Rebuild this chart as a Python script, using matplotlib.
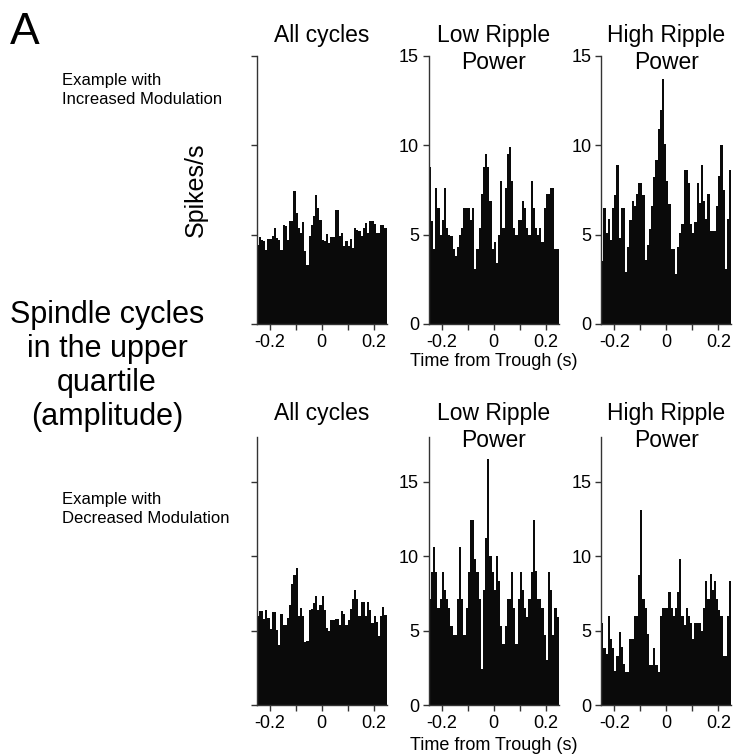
import numpy as np
import matplotlib.pyplot as plt

plt.rcParams['font.family'] = ['Liberation Sans', 'DejaVu Sans']

# 60 bins from -0.25 s to 0.25 s
bin_edges = np.linspace(-0.25, 0.25, 61)

# firing rates (spikes/s), increased modulation example
inc_all = [4.44, 4.87, 4.72, 4.63, 4.12, 4.76, 4.76, 4.94, 5.36, 4.81,
           4.72, 4.16, 5.56, 5.47, 4.72, 5.75, 5.75, 7.43, 6.22, 5.37,
           5.09, 5.69, 4.06, 3.31, 4.91, 5.56, 6.03, 7.21, 6.50, 5.84,
           4.72, 4.63, 5.06, 4.53, 4.87, 4.87, 6.37, 6.40, 4.91, 5.09,
           4.34, 4.63, 4.34, 4.76, 4.25, 5.37, 5.28, 5.19, 4.91, 5.37,
           5.66, 5.09, 5.75, 5.75, 5.60, 5.09, 5.09, 5.56, 5.56, 5.40]
inc_low = [8.8, 5.75, 4.2, 7.6, 6.5, 5.0, 5.8, 7.6, 5.4, 5.0,
           4.9, 4.2, 3.8, 4.3, 5.0, 5.4, 6.5, 6.5, 6.5, 5.8,
           6.5, 3.1, 4.2, 5.4, 7.3, 8.8, 9.5, 8.8, 6.9, 4.2,
           4.6, 3.4, 5.0, 8.0, 5.4, 7.6, 9.5, 9.9, 8.0, 5.4,
           5.0, 5.8, 5.8, 6.9, 6.5, 5.4, 5.0, 8.0, 6.5, 5.4,
           5.0, 5.4, 4.6, 6.5, 7.3, 7.3, 7.6, 7.6, 4.2, 4.2]
inc_high = [3.5, 6.5, 5.1, 5.9, 4.7, 6.5, 7.2, 8.9, 4.8, 6.5,
            6.5, 2.9, 4.3, 5.8, 6.9, 6.6, 7.3, 7.9, 7.9, 7.2,
            3.6, 4.4, 5.3, 6.6, 8.2, 9.2, 10.9, 12.0, 13.7, 10.1,
            8.0, 6.7, 4.2, 4.2, 2.8, 4.3, 5.1, 5.6, 8.6, 8.6,
            7.9, 5.6, 5.1, 5.7, 7.9, 6.8, 8.9, 6.9, 5.9, 7.3,
            5.2, 5.2, 5.2, 6.6, 8.3, 10.0, 7.5, 3.1, 5.9, 8.6]

# decreased modulation example
dec_all = [6.0, 6.3, 6.3, 5.8, 6.4, 5.85, 5.1, 6.25, 6.25, 5.05,
           4.0, 6.1, 5.35, 5.35, 5.85, 6.75, 8.15, 8.7, 9.2, 5.95,
           6.5, 6.0, 4.2, 4.3, 6.35, 6.45, 6.85, 7.35, 6.35, 6.7,
           7.3, 6.35, 5.2, 5.0, 5.7, 5.7, 5.8, 5.8, 5.4, 6.3,
           6.1, 5.35, 5.7, 6.45, 7.15, 7.7, 7.15, 6.0, 6.95, 6.95,
           6.0, 6.95, 6.35, 5.5, 6.0, 5.55, 4.65, 6.0, 6.6, 6.05]
dec_low = [7.1, 8.9, 10.6, 8.9, 6.5, 7.1, 8.9, 7.7, 7.1, 6.5,
           5.3, 4.7, 4.7, 7.1, 10.6, 7.1, 4.7, 6.5, 8.9, 12.4,
           12.4, 9.8, 8.9, 7.1, 2.4, 7.7, 11.2, 16.5, 10.0, 8.9,
           7.7, 10.0, 8.3, 5.3, 4.1, 5.3, 7.1, 7.1, 8.9, 6.5,
           4.1, 7.1, 8.9, 7.7, 6.5, 5.9, 7.1, 8.9, 12.4, 9.0,
           7.1, 7.1, 6.5, 4.7, 3.0, 8.9, 7.7, 4.7, 6.5, 5.9]
dec_high = [5.5, 3.8, 3.4, 6.0, 4.45, 3.85, 2.3, 3.3, 4.9, 3.9,
            2.75, 2.2, 2.2, 4.45, 4.45, 6.0, 6.0, 8.7, 13.1, 7.1,
            6.5, 4.8, 2.7, 2.7, 3.8, 2.7, 2.2, 6.0, 6.5, 6.5,
            6.5, 7.6, 6.5, 6.0, 6.5, 7.6, 9.8, 6.0, 5.4, 6.5,
            6.0, 5.5, 4.4, 5.5, 5.5, 5.5, 5.0, 6.5, 8.3, 7.1,
            8.8, 7.7, 8.3, 7.1, 6.4, 6.0, 3.3, 3.3, 6.0, 8.3]

titles = ['All cycles', 'Low Ripple\nPower', 'High Ripple\nPower']
top_rows = [inc_all, inc_low, inc_high]
bottom_rows = [dec_all, dec_low, dec_high]

W, H = 745, 755
fig = plt.figure(figsize=(W / 100, H / 100), dpi=100)

lefts = [256.5, 428.8, 601.3]
panel_w = 130


def make_axes(x0, ytop, ybot):
    return fig.add_axes([x0 / W, 1 - ybot / H, panel_w / W, (ybot - ytop) / H])


def style(ax, ymax, yticks, show_ylabels):
    ax.set_xlim(-0.25, 0.25)
    ax.set_ylim(0, ymax)
    for s in ['top', 'right']:
        ax.spines[s].set_visible(False)
    for s in ['left', 'bottom']:
        ax.spines[s].set_color('#333333')
        ax.spines[s].set_linewidth(1.0)
    ax.set_xticks([-0.2, -0.1, 0, 0.1, 0.2])
    ax.set_xticklabels(['-0.2', '', '0', '', '0.2'])
    ax.set_yticks(yticks)
    if show_ylabels:
        ax.set_yticklabels([str(t) for t in yticks])
    else:
        ax.set_yticklabels([])
    ax.tick_params(direction='out', length=4, width=1, color='#333333',
                   labelsize=13, pad=3)


def draw(ax, vals):
    widths = np.diff(bin_edges)
    ax.bar(bin_edges[:-1], vals, width=widths, align='edge',
           color='#0a0a0a', edgecolor='none')


def title(x0, ytop, txt):
    fig.text((x0 + panel_w / 2) / W, 1 - ytop / H, txt, ha='center',
             va='top', fontsize=16.5, linespacing=1.2)


for i in range(3):
    ax = make_axes(lefts[i], 56, 324)
    draw(ax, top_rows[i])
    style(ax, 15, [0, 5, 10, 15], i > 0)
    title(lefts[i], 24, titles[i])
    if i == 0:
        ax.set_ylabel('Spikes/s', fontsize=18, labelpad=28)

for i in range(3):
    ax = make_axes(lefts[i], 437, 705)
    draw(ax, bottom_rows[i])
    style(ax, 18, [0, 5, 10, 15], i > 0)
    title(lefts[i], 402, titles[i])

fig.text(494 / W, 1 - 362 / H, 'Time from Trough (s)', ha='center',
         va='center', fontsize=13)
fig.text(494 / W, 1 - 745 / H, 'Time from Trough (s)', ha='center',
         va='center', fontsize=13)

fig.text(62 / W, 1 - 90 / H, 'Example with\nIncreased Modulation',
         ha='left', va='center', fontsize=12, linespacing=1.3)
fig.text(62 / W, 1 - 509 / H, 'Example with\nDecreased Modulation',
         ha='left', va='center', fontsize=12, linespacing=1.3)

fig.text(107 / W, 1 - 366 / H,
         'Spindle cycles\nin the upper\nquartile\n(amplitude)',
         ha='center', va='center', fontsize=22, linespacing=1.18)

fig.text(10 / W, 1 - 33 / H, 'A', ha='left', va='center', fontsize=32)

fig.savefig('out.png', dpi=100)
